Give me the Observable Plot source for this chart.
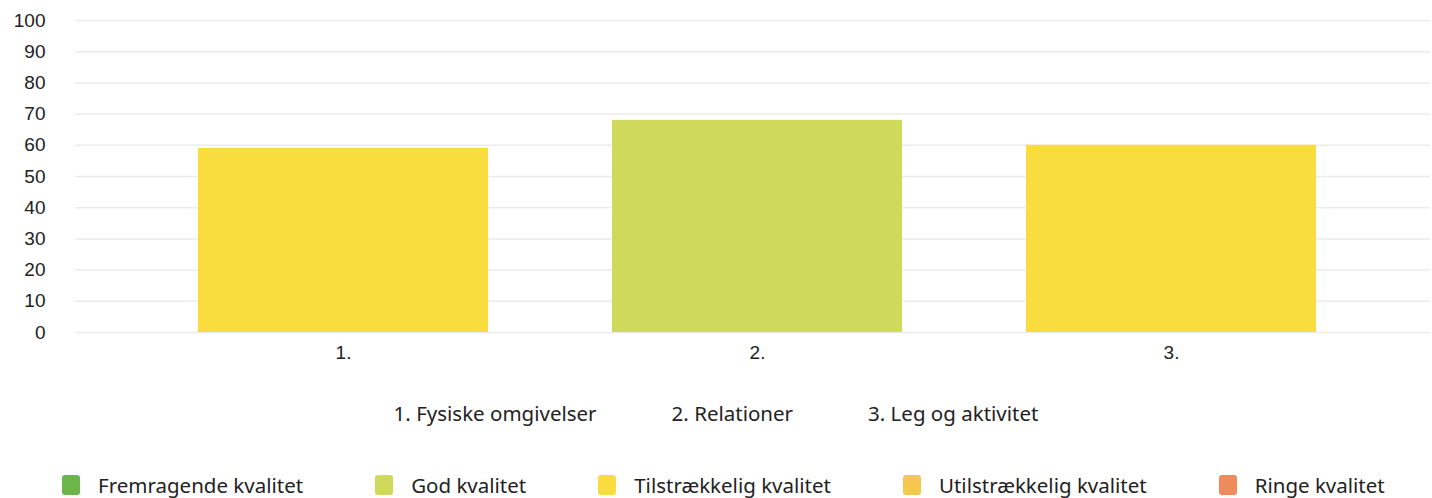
<!DOCTYPE html>
<html>
<head>
<meta charset="utf-8">
<script src="https://cdn.jsdelivr.net/npm/d3@7"></script>
<script src="https://cdn.jsdelivr.net/npm/@observablehq/plot@0.6"></script>
<style>
  html, body { margin: 0; padding: 0; background: #fff; }
  #wrap { position: relative; width: 1432px; height: 498px; }
  #chart svg { display: block; }
  #caption { position: absolute; top: 399px; left: 0; width: 1432px; display: flex; justify-content: center; gap: 75px;
    font-family: "Noto Sans", "Open Sans", sans-serif; font-size: 20.5px; color: #222; }
  #legend { position: absolute; top: 471px; left: 62px; display: flex; gap: 72px;
    font-family: "Noto Sans", "Open Sans", sans-serif; font-size: 20.5px; color: #222; }
  .item { display: flex; align-items: center; gap: 18px; }
  .sw { width: 18px; height: 20px; border-radius: 3px; }
</style>
</head>
<body>
<div id="wrap">
  <div id="chart"></div>
  <div id="caption"></div>
  <div id="legend"></div>
</div>
<script>
// Data
const tickLabels = ["1.", "2.", "3."];
const categoryNames = ["Fysiske omgivelser", "Relationer", "Leg og aktivitet"];
const values = [59, 68, 60];
const quality = ["Tilstrækkelig kvalitet", "God kvalitet", "Tilstrækkelig kvalitet"];
const qualityLevels = ["Fremragende kvalitet", "God kvalitet", "Tilstrækkelig kvalitet", "Utilstrækkelig kvalitet", "Ringe kvalitet"];
const qualityColors = ["#6cb54a", "#cfd95b", "#f9dc3e", "#f5c74c", "#ee8a5c"];
const yTicks = [0, 10, 20, 30, 40, 50, 60, 70, 80, 90, 100];

const rows = tickLabels.map((t, i) => ({label: t, value: values[i], quality: quality[i]}));

const chart = Plot.plot({
  width: 1432,
  height: 370,
  marginLeft: 75,
  marginRight: 2,
  marginTop: 20,
  marginBottom: 38,
  style: {fontFamily: "Liberation Sans, Arial, sans-serif", fontSize: "19px", color: "#222", background: "#fff"},
  x: {domain: tickLabels, range: [197, 1316], paddingInner: 0.3, paddingOuter: 0, label: null},
  y: {domain: [0, 100], label: null},
  color: {domain: qualityLevels, range: qualityColors},
  marks: [
    Plot.ruleY(yTicks, {stroke: "#ebebeb", strokeWidth: 1.5}),
    Plot.barY(rows, {x: "label", y: "value", fill: "quality"}),
    Plot.axisY(yTicks, {tickSize: 0, tickPadding: 30, fontSize: 19, fill: "#222"}),
    Plot.axisX({tickSize: 0, tickPadding: 13, fontSize: 19, fill: "#222"})
  ]
});
document.getElementById("chart").appendChild(chart);

const cap = document.getElementById("caption");
tickLabels.forEach((t, i) => {
  const s = document.createElement("span");
  s.textContent = t + " " + categoryNames[i];
  cap.appendChild(s);
});

const leg = document.getElementById("legend");
qualityLevels.forEach((q, i) => {
  const it = document.createElement("div");
  it.className = "item";
  const sw = document.createElement("div");
  sw.className = "sw";
  sw.style.background = qualityColors[i];
  const tx = document.createElement("span");
  tx.textContent = q;
  it.appendChild(sw); it.appendChild(tx);
  leg.appendChild(it);
});
</script>
</body>
</html>
